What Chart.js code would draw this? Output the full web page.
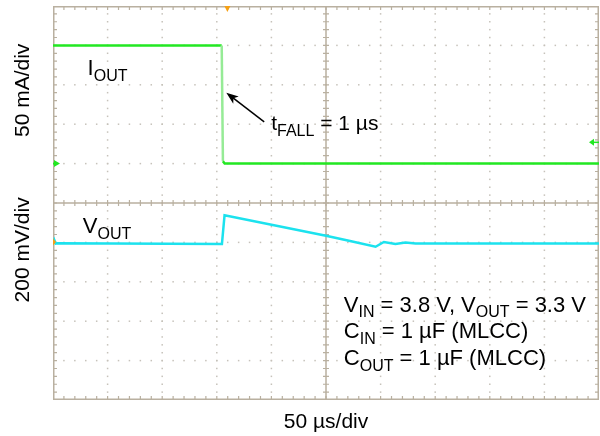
<!DOCTYPE html>
<html>
<head>
<meta charset="utf-8">
<script src="https://cdn.jsdelivr.net/npm/chart.js@4"></script>
<style>
  html, body { margin: 0; padding: 0; background: #fff; }
  canvas { display: block; }
</style>
</head>
<body>
<canvas id="scope" width="600" height="436"></canvas>
<script>
// Scope settings
const timePerDiv = 50;   // us/div
const ioutPerDiv = 50;   // mA/div
const voutPerDiv = 200;  // mV/div
const ioutZeroDiv = 6;   // CH1 ground marker (divisions above bottom)
const voutZeroDiv = 3.96;

// IOUT load step (mA)
const ioutTime = [0, 154.5, 155.6, 157.2, 500];
const ioutMa   = [150, 150, 3, 0, 0];

// VOUT deviation from 3.3 V (mV)
const voutTime = [0, 1.2, 2.5, 4, 154.7, 157.1, 250, 271, 295.4, 303, 313.6, 322.8, 332, 500];
const voutMv   = [0, 20, 2, 4, 0, 146, 42, 16, -14, 10, 0, 7, 3, 3];

const GREEN = 'rgb(34,232,34)';
const CYAN = 'rgb(28,226,238)';
const ORANGE = 'rgb(246,160,20)';
const FONT = '"Liberation Sans", Arial, Helvetica, sans-serif';

function pts(xs, ys) {
  return xs.map((x, i) => ({ x: x, y: ys[i] }));
}

// graticule: solid border and centre cross with minor ticks, dotted grid elsewhere
const graticule = {
  id: 'graticule',
  beforeDatasetsDraw(chart) {
    const { ctx, chartArea: a } = chart;
    const dx = (a.right - a.left) / 10, dy = (a.bottom - a.top) / 10;
    ctx.save();
    // dots
    ctx.fillStyle = '#c6c2ba';
    for (let i = 1; i < 10; i++) {
      if (i === 5) continue;
      const x = a.left + i * dx;
      for (let k = 1; k < 50; k++) ctx.fillRect(x - 0.75, a.top + k * dy / 5 - 0.75, 1.5, 1.5);
      const y = a.top + i * dy;
      for (let k = 1; k < 50; k++) ctx.fillRect(a.left + k * dx / 5 - 0.75, y - 0.75, 1.5, 1.5);
    }
    ctx.strokeStyle = '#b9b0a0';
    ctx.lineWidth = 1.5;
    ctx.beginPath();
    ctx.rect(a.left + 0.75, a.top + 0.75, a.right - a.left - 1.5, a.bottom - a.top - 1.5);
    const cx = a.left + 5 * dx, cy = a.top + 5 * dy;
    ctx.moveTo(cx, a.top); ctx.lineTo(cx, a.bottom);
    ctx.moveTo(a.left, cy); ctx.lineTo(a.right, cy);
    ctx.stroke();
    ctx.lineWidth = 1.2;
    ctx.beginPath();
    for (let k = 1; k < 50; k++) {
      const x = a.left + k * dx / 5, y = a.top + k * dy / 5;
      ctx.moveTo(x, a.top); ctx.lineTo(x, a.top + 4);
      ctx.moveTo(x, a.bottom); ctx.lineTo(x, a.bottom - 4);
      ctx.moveTo(x, cy - 3); ctx.lineTo(x, cy + 3);
      ctx.moveTo(a.left, y); ctx.lineTo(a.left + 4, y);
      ctx.moveTo(a.right, y); ctx.lineTo(a.right - 4, y);
      ctx.moveTo(cx - 3, y); ctx.lineTo(cx + 3, y);
    }
    ctx.stroke();
    ctx.restore();
  }
};

// text with subscripts: parts = [[text, isSub], ...]
function drawSub(ctx, x, y, parts, size) {
  const sub = Math.round(size * 0.74);
  let cx = x;
  parts.forEach(([t, isSub]) => {
    ctx.font = (isSub ? sub : size) + 'px ' + FONT;
    ctx.fillText(t, cx, isSub ? y + size * 0.26 : y);
    cx += ctx.measureText(t).width;
  });
}

const labels = {
  id: 'labels',
  afterDatasetsDraw(chart) {
    const { ctx, chartArea: a, scales } = chart;
    const X = v => scales.x.getPixelForValue(v);
    const YI = v => scales.yI.getPixelForValue(v);
    const YV = v => scales.yV.getPixelForValue(v);
    ctx.save();
    ctx.textBaseline = 'alphabetic';
    ctx.textAlign = 'left';

    // channel / trigger markers
    ctx.fillStyle = GREEN;
    const g0 = YI(0);
    ctx.beginPath();
    ctx.moveTo(a.left + 1, g0 - 3.5); ctx.lineTo(a.left + 7, g0); ctx.lineTo(a.left + 1, g0 + 3.5);
    ctx.fill();
    ctx.fillRect(a.left, g0 - 1, 4, 2);
    const trig = YI(27);
    ctx.beginPath();
    ctx.moveTo(a.right - 10, trig); ctx.lineTo(a.right - 5, trig - 3.5); ctx.lineTo(a.right - 5, trig + 3.5);
    ctx.fill();
    ctx.fillRect(a.right - 6, trig - 0.75, 6, 1.5);
    ctx.fillStyle = ORANGE;
    const tx = X(159.7);
    ctx.beginPath();
    ctx.moveTo(tx - 3, a.top); ctx.lineTo(tx + 3, a.top); ctx.lineTo(tx, a.top + 6);
    ctx.fill();
    const v0 = YV(10);
    ctx.beginPath();
    ctx.moveTo(a.left, v0 - 3.5); ctx.lineTo(a.left + 3, v0); ctx.lineTo(a.left, v0 + 3.5);
    ctx.fill();

    ctx.fillStyle = '#000';
    // axis captions
    ctx.font = '21px ' + FONT;
    ctx.textAlign = 'center';
    ctx.textBaseline = 'middle';
    [['50 mA/div', YI(93)], ['200 mV/div', YV(-30)]].forEach(([t, y]) => {
      ctx.save();
      ctx.translate(a.left - 30, y);
      ctx.rotate(-Math.PI / 2);
      ctx.fillText(t, 0, 0);
      ctx.restore();
    });
    ctx.textBaseline = 'alphabetic';
    ctx.font = '21px ' + FONT;
    ctx.fillText('50 \u00b5s/div', X(250), a.bottom + 28);

    ctx.textAlign = 'left';
    drawSub(ctx, X(31.7), YI(112.5), [['I', false], ['OUT', true]], 22);
    drawSub(ctx, X(27.3), YV(56), [['V', false], ['OUT', true]], 22);
    drawSub(ctx, X(199.8), YI(42.5), [['t', false], ['FALL', true], [' = 1 \u00b5s', false]], 21);

    const bx = X(266.3);
    drawSub(ctx, bx, YV(-344), [['V', false], ['IN', true], [' = 3.8 V, V', false], ['OUT', true], [' = 3.3 V', false]], 22);
    drawSub(ctx, bx, YV(-477), [['C', false], ['IN', true], [' = 1 \u00b5F (MLCC)', false]], 22);
    drawSub(ctx, bx, YV(-614), [['C', false], ['OUT', true], [' = 1 \u00b5F (MLCC)', false]], 22);

    // tFALL arrow
    const x1 = X(193.4), y1 = YI(53), x2 = X(158.7), y2 = YI(90);
    const ang = Math.atan2(y2 - y1, x2 - x1);
    ctx.strokeStyle = '#000';
    ctx.lineWidth = 1.5;
    ctx.beginPath();
    ctx.moveTo(x1, y1);
    ctx.lineTo(x2 - 6 * Math.cos(ang), y2 - 6 * Math.sin(ang));
    ctx.stroke();
    ctx.beginPath();
    ctx.moveTo(x2, y2);
    ctx.lineTo(x2 - 13 * Math.cos(ang - 0.35), y2 - 13 * Math.sin(ang - 0.35));
    ctx.lineTo(x2 - 9 * Math.cos(ang), y2 - 9 * Math.sin(ang));
    ctx.lineTo(x2 - 13 * Math.cos(ang + 0.35), y2 - 13 * Math.sin(ang + 0.35));
    ctx.closePath();
    ctx.fill();
    ctx.restore();
  }
};

new Chart(document.getElementById('scope'), {
  type: 'line',
  data: {
    datasets: [{
      label: 'IOUT',
      data: pts(ioutTime, ioutMa),
      yAxisID: 'yI',
      borderColor: GREEN,
      borderWidth: 2.5,
      pointRadius: 0,
      segment: {
        // fast edge shows up faint on the scope
        borderColor: c => Math.abs(c.p1.parsed.y - c.p0.parsed.y) > 100 ? 'rgb(150,235,150)' : undefined
      }
    }, {
      label: 'VOUT',
      data: pts(voutTime, voutMv),
      yAxisID: 'yV',
      borderColor: CYAN,
      borderWidth: 2.5,
      pointRadius: 0
    }]
  },
  options: {
    responsive: false,
    animation: false,
    events: [],
    layout: { padding: { left: 53, top: 6, right: 1, bottom: 36 } },
    plugins: { legend: { display: false }, tooltip: { enabled: false } },
    scales: {
      x: { type: 'linear', min: 0, max: 10 * timePerDiv, display: false },
      yI: { type: 'linear', min: -ioutZeroDiv * ioutPerDiv, max: (10 - ioutZeroDiv) * ioutPerDiv, display: false },
      yV: { type: 'linear', min: -voutZeroDiv * voutPerDiv, max: (10 - voutZeroDiv) * voutPerDiv, display: false }
    }
  },
  plugins: [graticule, labels]
});
</script>
</body>
</html>
